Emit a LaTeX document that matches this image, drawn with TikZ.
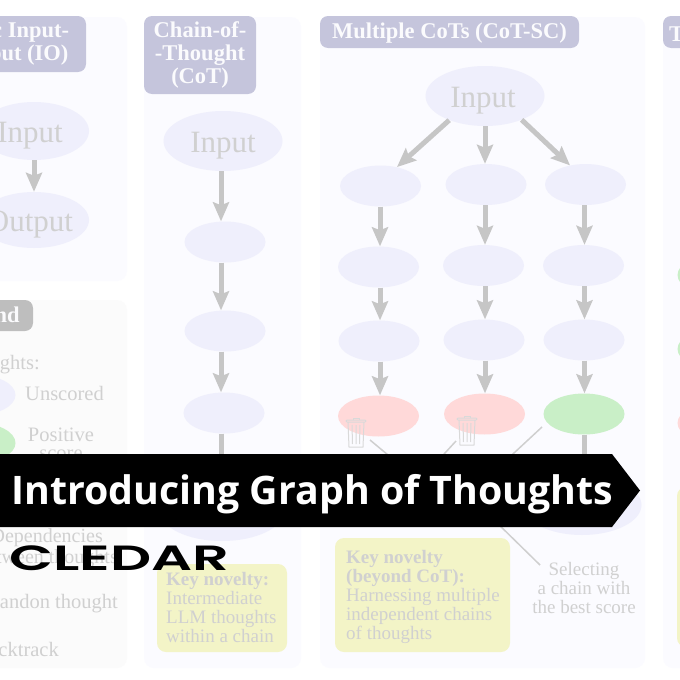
\documentclass[tikz,border=0pt]{standalone}
\usepackage{xcolor}
\usepackage{fontspec}
\setmainfont{Liberation Serif}
\newfontfamily\bannerfont{Open Sans}
\newfontfamily\logofont{Poppins}[UprightFont={* SemiBold}]
\usetikzlibrary{shapes.geometric,arrows.meta}
\definecolor{panelbg}{RGB}{251,251,255}
\definecolor{legendbg}{RGB}{251,251,251}
\definecolor{headbg}{RGB}{197,197,220}
\definecolor{legendhead}{RGB}{190,190,190}
\definecolor{unscored}{RGB}{239,239,252}
\definecolor{positive}{RGB}{201,239,199}
\definecolor{negative}{RGB}{255,217,217}
\definecolor{novelty}{RGB}{243,244,199}
\definecolor{flowgray}{RGB}{198,198,198}
\definecolor{fadetext}{RGB}{208,208,208}
\newcommand{\Bigfont}{\fontsize{31}{31}\selectfont}
\newcommand{\Smallfont}{\fontsize{19}{19}\selectfont}
\newcommand{\Legendfont}{\fontsize{20.5}{17.5}\selectfont}
\newcommand{\Headfont}{\fontsize{22.5}{23}\selectfont\bfseries}
\tikzstyle{thought}=[ellipse,inner sep=0pt,minimum width=81pt,minimum height=41pt,fill=unscored,text=fadetext,font=\Bigfont]
\tikzstyle{bigthought}=[thought,minimum width=119pt,minimum height=60pt,text height=29pt]
\tikzstyle{good}=[fill=positive]
\tikzstyle{bad}=[fill=negative]
\tikzstyle{head}=[rounded corners=8pt,fill=headbg,text=white!94!headbg,inner sep=0pt,align=center,font=\Headfont]
\tikzstyle{keybox}=[rounded corners=9pt,fill=novelty]
\tikzstyle{note}=[text=fadetext,inner sep=0pt,font=\Smallfont]
\tikzstyle{legendnote}=[note,font=\Legendfont]
\tikzstyle{flow}=[-{Stealth[length=19pt,width=16pt,inset=3pt]},line width=5pt,color=flowgray]
\tikzstyle{thin}=[line width=1.5pt,color=flowgray!85!white]
\tikzset{trashcan/.pic={
    \draw[line width=1pt,color=fadetext!80!white] (-8,-11) -- (-7,14) -- (7,14) -- (8,-11);
    \draw[line width=1pt,color=fadetext!80!white,rounded corners=1pt] (-10,-11) -- (10,-11) -- (10,-13) -- (-10,-13) -- cycle;
    \draw[line width=1pt,color=fadetext!80!white] (-3,-13) -- (-3,-15) -- (3,-15) -- (3,-13);
    \draw[line width=1pt,color=fadetext!80!white] (-4,-8) -- (-3.5,11) (0,-8) -- (0,11) (4,-8) -- (3.5,11);
}}

\begin{document}
\begin{tikzpicture}[x=1pt,y=-1pt]
  \clip (0,0) rectangle (680,680);
  \fill[white] (0,0) rectangle (680,680);

  %% Panels
  \fill[panelbg,rounded corners=10pt] (-20,17) rectangle (127,281);
  \fill[legendbg,rounded corners=10pt] (-20,300) rectangle (127,668);
  \fill[panelbg,rounded corners=10pt] (144,17) rectangle (301,668);
  \fill[panelbg,rounded corners=10pt] (320,17) rectangle (645,668);
  \fill[panelbg,rounded corners=10pt] (663,17) rectangle (720,668);

  \draw (10,44) node[head,minimum width=152pt,minimum height=56pt] (Hio) {Basic Input-\\Output (IO)};
  \draw (200,55) node[head,minimum width=112pt,minimum height=78pt] (Hcot) {Chain-of-\\-Thought\\(CoT)};
  \draw (449.5,32) node[head,minimum width=259pt,minimum height=32pt,text height=18pt] (Hsc) {Multiple CoTs (CoT-SC)};
  \draw (705,32) node[head,minimum width=84pt,minimum height=32pt,text height=18pt,text width=72pt,align=left] (Htot) {T};
  \draw (-16,315.5) node[head,fill=legendhead,minimum width=98pt,minimum height=31pt,text height=18pt] (Hleg) {Legend};

  %% Input-Output
  \draw (34,131) node[bigthought,inner xsep=-6pt,minimum width=110pt,minimum height=58pt] (I1) {\kern-8pt Input};
  \draw (34,220) node[bigthought,inner xsep=-6pt,minimum width=110pt,minimum height=56pt] (I2) {\kern-8pt Output};
  \draw[flow] (I1) -- (I2);

  %% Chain
  \draw (223,141) node[bigthought] (C1) {Input};
  \draw (225,242) node[thought] (C2) {};
  \draw (225,331) node[thought] (C3) {};
  \draw (224,413) node[thought] (C4) {};
  \draw (222,511) node[bigthought,minimum width=124pt] (C5) {};
  \draw[flow] ([xshift=-2pt]C1.south) -- ([xshift=-4pt]C2.north);
  \draw[flow] ([xshift=-4pt]C2.south) -- ([xshift=-4pt]C3.north);
  \draw[flow] ([xshift=-4pt]C3.south) -- ([xshift=-3pt]C4.north);
  \draw[flow] ([xshift=-3pt]C4.south) -- ([xshift=-1pt]C5.north);

  %% Multiple chains
  \draw (485,96) node[bigthought] (S0) {\kern-4pt Input};
  \draw (380.5,186) node[thought] (S11) {};
  \draw (486,184.5) node[thought] (S12) {};
  \draw (585.5,184.5) node[thought] (S13) {};
  \draw (378.5,267) node[thought] (S21) {};
  \draw (483.5,265.5) node[thought] (S22) {};
  \draw (583.5,265.5) node[thought] (S23) {};
  \draw (379,341) node[thought] (S31) {};
  \draw (484,340) node[thought] (S32) {};
  \draw (584,340) node[thought] (S33) {};
  \draw (378.5,416) node[thought,bad] (S41) {};
  \draw (484.5,414) node[thought,bad] (S42) {};
  \draw (584,414) node[thought,good] (S43) {};
  \draw (582,505) node[bigthought] (S5) {};

  \draw[flow] (S0.214) -- (S11.49);
  \draw[flow] (S0.south) -- ([xshift=-1pt]S12.north);
  \draw[flow] (S0.-33) -- (S13.129);
  \draw[flow] ([xshift=-.5pt]S11.south) -- ([xshift=1.5pt]S21.north);
  \draw[flow] ([xshift=-1pt]S12.south) -- ([xshift=1.5pt]S22.north);
  \draw[flow] ([xshift=-1pt]S13.south) -- ([xshift=1pt]S23.north);
  \draw[flow] ([xshift=1.5pt]S21.south) -- ([xshift=1pt]S31.north);
  \draw[flow] ([xshift=1.5pt]S22.south) -- ([xshift=1pt]S32.north);
  \draw[flow] ([xshift=1pt]S23.south) -- ([xshift=.5pt]S33.north);
  \draw[flow] ([xshift=1pt]S31.south) -- ([xshift=1.5pt]S41.north);
  \draw[flow] ([xshift=1pt]S32.south) -- ([xshift=.5pt]S42.north);
  \draw[flow] ([xshift=.5pt]S33.south) -- ([xshift=.5pt]S43.north);
  \draw[flow] ([xshift=.5pt]S43.south) -- ([xshift=2.5pt]S5.north);

  \pic at (356,433) {trashcan};
  \pic at (467,431) {trashcan};

  \coordinate (A1) at (370,440);
  \coordinate (A2) at (400,465);
  \coordinate (B1) at (456,441);
  \coordinate (B2) at (434,465);
  \coordinate (D1) at (542,427);
  \coordinate (D2) at (500,466);
  \coordinate (E1) at (490,516);
  \coordinate (E2) at (540,565);
  \draw[thin] (A1) -- (A2);
  \draw[thin] (B1) -- (B2);
  \draw[thin] (D1) -- (D2);
  \draw[thin] (E1) -- (E2);

  \draw (584,587.5) node[note,align=center] (Tsel) {Selecting\\a chain with\\the best score};

  %% Key novelty boxes
  \fill[keybox] (157,564) rectangle (287,652);
  \fill[keybox] (335,538) rectangle (510,652);
  \draw (166,607) node[note,anchor=west,align=left] (Tk1) {\textbf{Key novelty:}\\Intermediate\\LLM thoughts\\within a chain};
  \draw (346,597) node[note,anchor=west,align=left] (Tk2) {\textbf{Key novelty}\\\textbf{(beyond CoT):}\\Harnessing multiple\\independent chains\\of thoughts};

  %% Legend things
  \draw (40,365) node[legendnote,anchor=east] (L0) {Thoughts:};
  \draw (-25,395) node[thought] (L1) {};
  \draw (-25,443) node[thought,good] (L2) {};
  \draw (25,393) node[legendnote,anchor=west] (L3) {Unscored};
  \draw (61,444) node[legendnote,align=center] (L4) {Positive\\score};
  \draw (103,538) node[note,font=\fontsize{20}{20}\selectfont,anchor=east] (L5) {Dependencies};
  \draw (118,559) node[note,font=\fontsize{20}{20}\selectfont,anchor=east] (L6) {between thoughts};
  \draw (118,604) node[legendnote,anchor=east] (L7) {Abandon thought};
  \draw (59,649.5) node[legendnote,anchor=east] (L8) {Backtrack};

  %% Next panel
  \draw (718,275) node[thought,good] (R1) {};
  \draw (718,349) node[thought,good] (R2) {};
  \draw (718,423) node[thought,bad] (R3) {};
  \fill[keybox] (677,487) rectangle (760,647);

  %% Banner
  \fill[black] (-5,454) -- (612,454) -- (640,490.5) -- (612,527) -- (-5,527) -- cycle;
  \draw (312.5,494.5) node[inner sep=0pt,text=white,font=\bannerfont\fontsize{39.3}{39.3}\selectfont\bfseries] (Title) {Introducing Graph of Thoughts};
  \draw (119.5,558.5) node[inner sep=0pt,text=black,xscale=1.64,font=\logofont\fontsize{35}{35}\selectfont] (Logo) {CLEDAR};
\end{tikzpicture}
\end{document}
